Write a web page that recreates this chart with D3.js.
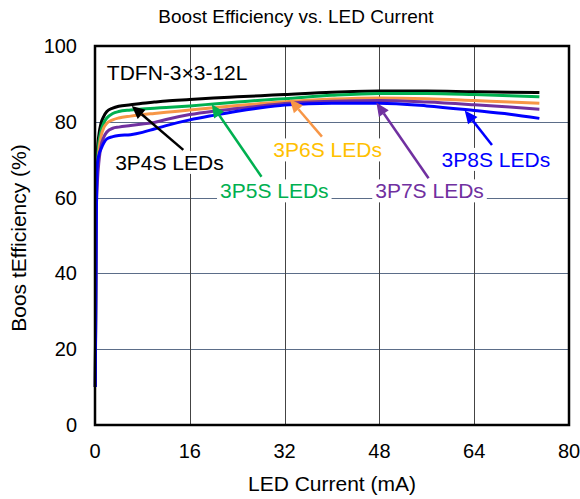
<!DOCTYPE html>
<html>
<head>
<meta charset="utf-8">
<script src="https://cdn.jsdelivr.net/npm/d3@7"></script>
<style>
  body { margin: 0; background: #fff; }
  text { font-family: "Liberation Sans", Arial, sans-serif; }
</style>
</head>
<body>
<svg width="580" height="499"></svg>
<script>
const svgWidth = 580;
const svgHeight = 499;
const margin = {top: 46, right: 11, bottom: 74, left: 95};

// LED current (mA) sample points shared by the curves
const current = [0.05, 0.2, 0.4, 0.7, 1, 1.5, 2, 3, 4, 6, 8, 10, 12, 16, 20, 24, 28, 32, 40, 48, 56, 64, 70, 75];

const eff3P4S = [10, 60, 72, 77, 79.5, 81.5, 82.7, 83.6, 84.1, 84.5, 84.9, 85.2, 85.5, 85.9, 86.3, 86.6, 86.9, 87.2, 87.8, 88.1, 88.1, 87.9, 87.8, 87.7];
const eff3P5S = [10, 62, 70, 75, 77.5, 79.8, 81, 82.2, 82.7, 83.1, 83.4, 83.6, 83.8, 84.2, 84.7, 85.2, 85.7, 86.1, 87, 87.5, 87.5, 87.2, 86.9, 86.6];
const eff3P6S = [10, 58, 67, 73, 76, 78.5, 79.6, 80.5, 81, 81.5, 81.9, 82.2, 82.5, 83.1, 83.7, 84.3, 84.8, 85.3, 86, 86.3, 86.1, 85.6, 85.2, 84.9];
const eff3P7S = [10, 55, 64, 70, 73.5, 76, 77.3, 78.3, 78.6, 79, 79.4, 79.8, 80.6, 81.9, 82.8, 83.5, 84.2, 84.8, 85.4, 85.6, 85.2, 84.5, 83.9, 83.3];
const eff3P8S = [10, 50, 69, 71.5, 72.8, 74.5, 75.5, 76.1, 76.4, 76.6, 77.2, 78.1, 79, 80.5, 81.7, 82.8, 83.7, 84.4, 84.9, 84.9, 84.2, 83, 82, 80.9];

const seriesNames = ["3P4S", "3P5S", "3P6S", "3P7S", "3P8S"];
const seriesValues = [eff3P4S, eff3P5S, eff3P6S, eff3P7S, eff3P8S];
const lineColors = ["#000000", "#00b050", "#f79646", "#7030a0", "#0000ff"];
const textColors = ["#000000", "#00b050", "#ffc000", "#7030a0", "#0000ff"];

const xTicks = [0, 16, 32, 48, 64, 80];
const yTicks = [0, 20, 40, 60, 80, 100];

// annotation text anchor and arrow tail -> head, in data units
const labelX = [3.4, 21.1, 30.1, 47.3, 58.5];
const labelY = [67.3, 59.8, 70.6, 59.8, 68.1];
const arrowFrom = [[14.9, 72.6], [28.1, 65.5], [38.3, 76.1], [56.3, 65.1], [67, 73.9]];
const arrowTo = [[6.2, 84.2], [19.7, 84.6], [32.9, 85.9], [47.5, 85.0], [62.4, 83.0]];

const svg = d3.select("svg");
const w = svgWidth - margin.left - margin.right;
const h = svgHeight - margin.top - margin.bottom;

const xScale = d3.scaleLinear().domain([0, 80]).range([0, w]);
const yScale = d3.scaleLinear().domain([0, 100]).range([h, 0]);

const g = svg.append("g").attr("transform", `translate(${margin.left},${margin.top})`);

// grid
g.selectAll(".hgrid")
    .data(yTicks.filter(d => d > 0 && d < 100))
    .enter().append("line")
    .attr("x1", 0).attr("x2", w)
    .attr("y1", d => Math.round(yScale(d)) + 0.5)
    .attr("y2", d => Math.round(yScale(d)) + 0.5)
    .attr("stroke", "#5b6d88")
    .attr("stroke-width", 1);

g.selectAll(".vgrid")
    .data(xTicks.filter(d => d > 0 && d < 80))
    .enter().append("line")
    .attr("x1", d => Math.round(xScale(d)) + 0.5)
    .attr("x2", d => Math.round(xScale(d)) + 0.5)
    .attr("y1", 0).attr("y2", h)
    .attr("stroke", "#444")
    .attr("stroke-width", 1);

// curves
const line = d3.line()
    .x((d, i) => xScale(current[i]))
    .y(d => yScale(d))
    .curve(d3.curveMonotoneX);

g.selectAll(".curve")
    .data(seriesValues)
    .enter().append("path")
    .attr("d", line)
    .attr("fill", "none")
    .attr("stroke", (d, i) => lineColors[i])
    .attr("stroke-width", 3)
    .attr("stroke-linejoin", "round");

// frame
g.append("rect")
    .attr("x", 0).attr("y", 0)
    .attr("width", w).attr("height", h)
    .attr("fill", "none")
    .attr("stroke", "#000")
    .attr("stroke-width", 2.5);

// tick labels
g.selectAll(".ylab")
    .data(yTicks)
    .enter().append("text")
    .attr("x", -18)
    .attr("y", d => yScale(d))
    .attr("dy", "0.35em")
    .attr("text-anchor", "end")
    .attr("font-size", 20)
    .text(d => d);

g.selectAll(".xlab")
    .data(xTicks)
    .enter().append("text")
    .attr("x", d => xScale(d))
    .attr("y", h + 26)
    .attr("dy", "0.35em")
    .attr("text-anchor", "middle")
    .attr("font-size", 20)
    .text(d => d);

// titles
svg.append("text")
    .attr("x", 296).attr("y", 23)
    .attr("text-anchor", "middle")
    .attr("font-size", 19)
    .text("Boost Efficiency vs. LED Current");

svg.append("text")
    .attr("x", 332).attr("y", 491)
    .attr("text-anchor", "middle")
    .attr("font-size", 21)
    .text("LED Current (mA)");

svg.append("text")
    .attr("transform", "translate(26,238) rotate(-90)")
    .attr("text-anchor", "middle")
    .attr("font-size", 21)
    .text("Boos tEfficiency (%)");

// package note
g.append("text")
    .attr("x", xScale(2)).attr("y", yScale(91))
    .attr("font-size", 21)
    .text("TDFN-3×3-12L");

// arrows
seriesNames.forEach((name, i) => {
    const x1 = xScale(arrowFrom[i][0]), y1 = yScale(arrowFrom[i][1]);
    const x2 = xScale(arrowTo[i][0]), y2 = yScale(arrowTo[i][1]);
    const ang = Math.atan2(y2 - y1, x2 - x1);
    const len = 13, wid = 6;
    const bx = x2 - len * Math.cos(ang), by = y2 - len * Math.sin(ang);
    g.append("line")
        .attr("x1", x1).attr("y1", y1)
        .attr("x2", bx).attr("y2", by)
        .attr("stroke", lineColors[i])
        .attr("stroke-width", 2.5);
    g.append("path")
        .attr("d", `M${x2},${y2}L${bx + wid * Math.sin(ang)},${by - wid * Math.cos(ang)}L${bx - wid * Math.sin(ang)},${by + wid * Math.cos(ang)}Z`)
        .attr("fill", lineColors[i]);
});

// labels with white boxes
seriesNames.forEach((name, i) => {
    const t = g.append("text")
        .attr("x", xScale(labelX[i])).attr("y", yScale(labelY[i]))
        .attr("font-size", 21)
        .attr("fill", textColors[i])
        .text(name + " LEDs");
    const bb = t.node().getBBox();
    g.insert("rect", "text")
        .attr("x", bb.x - 3).attr("y", bb.y)
        .attr("width", bb.width + 6).attr("height", bb.height)
        .attr("fill", "#fff");
});
</script>
</body>
</html>
